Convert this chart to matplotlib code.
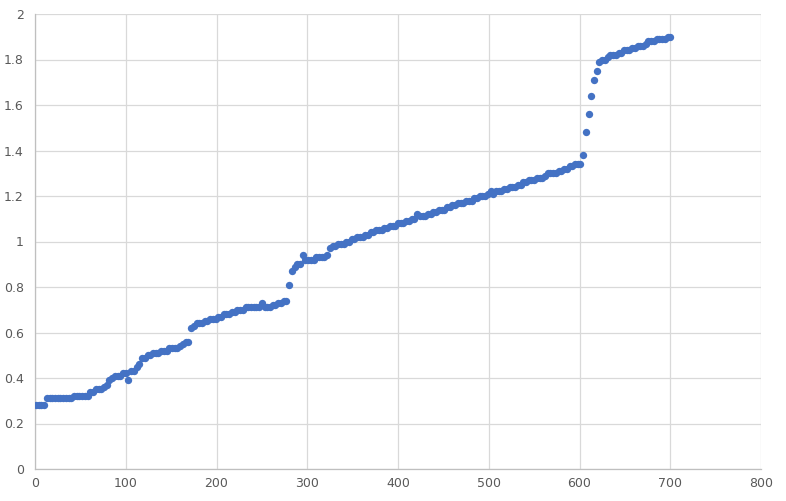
import matplotlib.pyplot as plt
import numpy as np

# sample positions (every 3rd index) and the sorted values
x_vals = np.arange(1, 701, 3)
y_vals = [
    0.28, 0.28, 0.28, 0.28, 0.31, 0.31, 0.31, 0.31, 0.31, 0.31,
    0.31, 0.31, 0.31, 0.31, 0.32, 0.32, 0.32, 0.32, 0.32, 0.32,
    0.34, 0.34, 0.35, 0.35, 0.35, 0.36, 0.37, 0.39, 0.40, 0.41,
    0.41, 0.41, 0.42, 0.42, 0.39, 0.43, 0.43, 0.45, 0.46, 0.49,
    0.49, 0.50, 0.50, 0.51, 0.51, 0.51, 0.52, 0.52, 0.52, 0.53,
    0.53, 0.53, 0.53, 0.54, 0.55, 0.56, 0.56, 0.62, 0.63, 0.64,
    0.64, 0.64, 0.65, 0.65, 0.66, 0.66, 0.66, 0.67, 0.67, 0.68,
    0.68, 0.68, 0.69, 0.69, 0.70, 0.70, 0.70, 0.71, 0.71, 0.71,
    0.71, 0.71, 0.71, 0.73, 0.71, 0.71, 0.71, 0.72, 0.72, 0.73,
    0.73, 0.74, 0.74, 0.81, 0.87, 0.89, 0.90, 0.90, 0.94, 0.92,
    0.92, 0.92, 0.92, 0.93, 0.93, 0.93, 0.93, 0.94, 0.97, 0.98,
    0.98, 0.99, 0.99, 0.99, 1.00, 1.00, 1.01, 1.01, 1.02, 1.02,
    1.02, 1.03, 1.03, 1.04, 1.04, 1.05, 1.05, 1.05, 1.06, 1.06,
    1.07, 1.07, 1.07, 1.08, 1.08, 1.08, 1.09, 1.09, 1.10, 1.10,
    1.12, 1.11, 1.11, 1.11, 1.12, 1.12, 1.13, 1.13, 1.14, 1.14,
    1.14, 1.15, 1.15, 1.16, 1.16, 1.17, 1.17, 1.17, 1.18, 1.18,
    1.18, 1.19, 1.19, 1.20, 1.20, 1.20, 1.21, 1.22, 1.21, 1.22,
    1.22, 1.22, 1.23, 1.23, 1.24, 1.24, 1.24, 1.25, 1.25, 1.26,
    1.26, 1.27, 1.27, 1.27, 1.28, 1.28, 1.28, 1.29, 1.30, 1.30,
    1.30, 1.30, 1.31, 1.31, 1.32, 1.32, 1.33, 1.33, 1.34, 1.34,
    1.34, 1.38, 1.48, 1.56, 1.64, 1.71, 1.75, 1.79, 1.80, 1.80,
    1.81, 1.82, 1.82, 1.82, 1.83, 1.83, 1.84, 1.84, 1.84, 1.85,
    1.85, 1.86, 1.86, 1.86, 1.87, 1.88, 1.88, 1.88, 1.89, 1.89,
    1.89, 1.89, 1.90, 1.90,
]

x_ticks = [0, 100, 200, 300, 400, 500, 600, 700, 800]
y_ticks = [0, 0.2, 0.4, 0.6, 0.8, 1, 1.2, 1.4, 1.6, 1.8, 2]
y_labels = ["0", "0.2", "0.4", "0.6", "0.8", "1", "1.2", "1.4", "1.6", "1.8", "2"]

fig = plt.figure(figsize=(7.86, 5.01), dpi=100)
ax = fig.add_axes([35 / 786, 1 - 469 / 501, 726 / 786, 455 / 501])

ax.scatter(x_vals, y_vals, s=28, color="#4472C4", zorder=3, linewidths=0)

ax.set_xlim(0, 800)
ax.set_ylim(0, 2)
ax.set_xticks(x_ticks)
ax.set_yticks(y_ticks)
ax.set_yticklabels(y_labels)
ax.grid(True, color="#D9D9D9", linewidth=0.9)
ax.set_axisbelow(True)

for side in ["top", "right"]:
    ax.spines[side].set_visible(False)
for side in ["left", "bottom"]:
    ax.spines[side].set_color("#BFBFBF")
    ax.spines[side].set_linewidth(0.9)

ax.tick_params(length=0, labelsize=9, labelcolor="#595959")
ax.tick_params(axis="x", pad=6)
ax.tick_params(axis="y", pad=8)

fig.savefig("out.png", dpi=100)
